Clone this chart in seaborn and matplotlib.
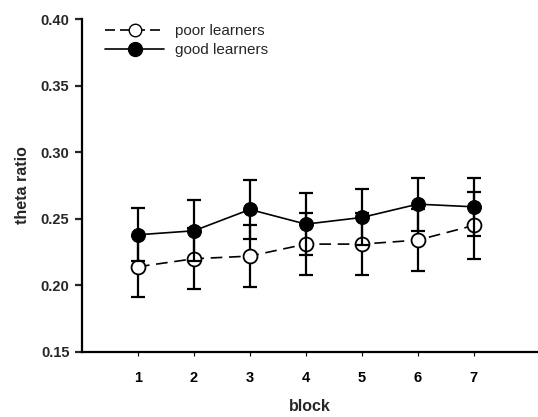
import matplotlib
matplotlib.use("Agg")
import matplotlib.pyplot as plt
import seaborn as sns
import pandas as pd
from matplotlib.lines import Line2D

blocks = [1, 2, 3, 4, 5, 6, 7]
poor = [0.214, 0.220, 0.222, 0.231, 0.231, 0.234, 0.245]
poor_err = [0.023, 0.023, 0.023, 0.023, 0.023, 0.023, 0.025]
good = [0.238, 0.241, 0.257, 0.246, 0.251, 0.261, 0.259]
good_err = [0.020, 0.023, 0.022, 0.023, 0.021, 0.020, 0.022]

sns.set_style("ticks")
plt.rcParams['font.family'] = ['Liberation Sans', 'DejaVu Sans']

fig = plt.figure(figsize=(5.38, 4.17), dpi=100)
ax = fig.add_axes([0.1524, 0.1559, 0.8476, 0.7985])

df = pd.DataFrame({
    "block": blocks * 2,
    "theta": poor + good,
    "group": ["poor learners"] * 7 + ["good learners"] * 7,
})

ax.errorbar(blocks, poor, yerr=poor_err, fmt='none', ecolor='black',
            elinewidth=1.6, capsize=5, capthick=1.6, zorder=2)
sns.lineplot(data=df[df.group == "poor learners"], x="block", y="theta",
             color='black', linestyle=(0, (7, 4)), linewidth=1.2,
             marker='o', markersize=10, markerfacecolor='white',
             markeredgecolor='black', markeredgewidth=1.3, ax=ax,
             legend=False, zorder=3)
ax.errorbar(blocks, good, yerr=good_err, fmt='none', ecolor='black',
            elinewidth=1.6, capsize=5, capthick=1.6, zorder=4)
sns.lineplot(data=df[df.group == "good learners"], x="block", y="theta",
             color='black', linestyle='-', linewidth=1.2,
             marker='o', markersize=10, markerfacecolor='black',
             markeredgecolor='black', ax=ax, legend=False, zorder=5)

ax.set_xlim(-0.0, 8.15)
ax.set_ylim(0.15, 0.40)
ax.set_xticks(blocks)
ax.set_yticks([0.15, 0.20, 0.25, 0.30, 0.35, 0.40])
ax.set_yticklabels(["0.15", "0.20", "0.25", "0.30", "0.35", "0.40"])
for s in ["top", "right"]:
    ax.spines[s].set_visible(False)
for s in ["left", "bottom"]:
    ax.spines[s].set_linewidth(1.6)
    ax.spines[s].set_color('black')
ax.tick_params(axis='y', direction='out', length=5, width=1.6, labelsize=10.5, pad=4)
ax.tick_params(axis='x', direction='out', length=3, width=0.8, labelsize=10.5, pad=11, colors='black')
for lab in ax.get_xticklabels() + ax.get_yticklabels():
    lab.set_fontweight('bold')
ax.set_xlabel("block", fontsize=11.5, fontweight='bold', labelpad=10)
ax.set_ylabel("theta ratio", fontsize=11.5, fontweight='bold', labelpad=8)

handles = [
    Line2D([0], [0], color='black', linestyle=(0, (6, 3)), linewidth=1.2, marker='o',
           markersize=9, markerfacecolor='white', markeredgecolor='black'),
    Line2D([0], [0], color='black', linestyle='-', linewidth=1.2, marker='o',
           markersize=10, markerfacecolor='black', markeredgecolor='black'),
]
ax.legend(handles, ["poor learners", "good learners"], loc='upper left',
          bbox_to_anchor=(0.02, 1.025), frameon=False, fontsize=11,
          handlelength=3.9, labelspacing=0.3, handletextpad=0.7)

fig.savefig("out.png", dpi=100)
